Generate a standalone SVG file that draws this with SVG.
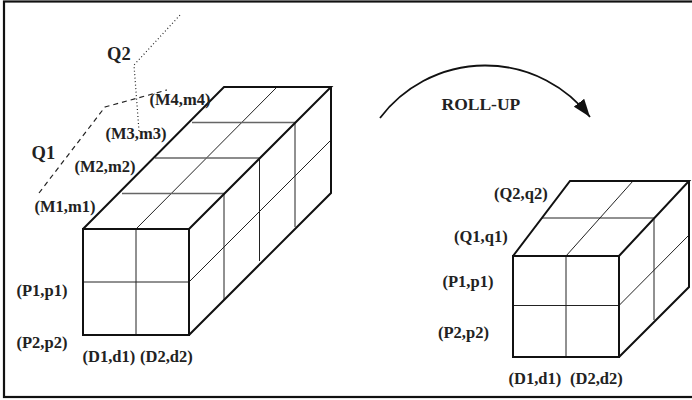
<svg xmlns="http://www.w3.org/2000/svg" width="692" height="400" viewBox="0 0 692 400">
<style>
.lbl{font-family:"Liberation Serif","Times New Roman",serif;font-weight:bold;font-size:16.5px;fill:#222}
.big{font-size:18.5px}
.thick{fill:none;stroke:#111;stroke-width:2;stroke-linejoin:miter}
.thin{fill:none;stroke:#222;stroke-width:1}
.gray{fill:none;stroke:#666;stroke-width:1.3}
.dash{fill:none;stroke:#222;stroke-width:1.2;stroke-dasharray:5 4}
.dot{fill:none;stroke:#222;stroke-width:1.2;stroke-dasharray:1 2.5}
</style>
<defs>
<marker id="ah" markerWidth="18" markerHeight="13" refX="18" refY="6.5" orient="auto" markerUnits="userSpaceOnUse">
<path d="M0,0 L18,6.5 L0,13 Z" fill="#111"/>
</marker>
</defs>
<rect x="0" y="0" width="692" height="400" fill="#fff"/>
<rect x="4" y="1.5" width="700" height="395.5" fill="none" stroke="#111" stroke-width="2.2"/>

<g id="cube-left">
<line class="thin" x1="136" y1="229" x2="136" y2="335"/>
<line class="thin" x1="83" y1="282" x2="189" y2="282"/>
<line class="thin" x1="136" y1="229" x2="277" y2="87"/>
<line class="gray" x1="122" y1="193.5" x2="224" y2="193.5"/>
<line class="gray" x1="155" y1="158" x2="259.5" y2="158"/>
<line class="gray" x1="192" y1="122.5" x2="295" y2="122.5"/>
<line class="thin" x1="224" y1="193.5" x2="224" y2="300"/>
<line class="thin" x1="259.5" y1="158" x2="259.5" y2="261"/>
<line class="thin" x1="295" y1="122.5" x2="295" y2="227"/>
<line class="thin" x1="189" y1="282" x2="331" y2="140"/>
<rect class="thick" x="83" y="229" width="106" height="106"/>
<polyline class="thick" points="83,229 224,87 331,87 189,229"/>
<polyline class="thick" points="331,87 331,193 189,335"/>
</g>

<g id="cube-right">
<line class="thin" x1="566" y1="256" x2="566" y2="357"/>
<line class="thin" x1="513" y1="305.5" x2="619" y2="305.5"/>
<line class="thin" x1="566" y1="256" x2="633" y2="181"/>
<line class="thin" x1="542" y1="218" x2="654" y2="218"/>
<line class="thin" x1="654" y1="218" x2="654" y2="320"/>
<line class="thin" x1="619" y1="305.5" x2="689" y2="235"/>
<rect class="thick" x="513" y="256" width="106" height="101"/>
<polyline class="thick" points="513,256 570,181 689,181 619,256"/>
<polyline class="thick" points="689,181 689,287 619,357"/>
</g>

<g id="connectors">
<polyline id="q1-path" class="dash" points="39,193 105,107 167,90"/>
<polyline id="q2-path" class="dot" points="139,131 134,65 181,14"/>
<path id="roll-up-arrow" d="M380,118 A132,132 0 0 1 590,117" fill="none" stroke="#111" stroke-width="1.8" marker-end="url(#ah)"/>
</g>

<g id="labels-left">
<text class="lbl big" x="107" y="60">Q2</text>
<text class="lbl big" x="31.5" y="159">Q1</text>
<text class="lbl" x="149.5" y="105">(M4,m4)</text>
<text class="lbl" x="105.5" y="139">(M3,m3)</text>
<text class="lbl" x="74.5" y="172">(M2,m2)</text>
<text class="lbl" x="34.5" y="211.5">(M1,m1)</text>
<text class="lbl" x="16.5" y="296">(P1,p1)</text>
<text class="lbl" x="16.5" y="348">(P2,p2)</text>
<text class="lbl" x="82.5" y="361.5">(D1,d1)</text>
<text class="lbl" x="140" y="361.5">(D2,d2)</text>
</g>
<g id="label-rollup">
<text class="lbl" x="441.5" y="110" style="font-size:17.5px">ROLL-UP</text>
</g>
<g id="labels-right">
<text class="lbl" x="494" y="199">(Q2,q2)</text>
<text class="lbl" x="454" y="242">(Q1,q1)</text>
<text class="lbl" x="442.5" y="286.5">(P1,p1)</text>
<text class="lbl" x="438" y="337.5">(P2,p2)</text>
<text class="lbl" x="508.5" y="384">(D1,d1)</text>
<text class="lbl" x="570" y="384">(D2,d2)</text>
</g>
</svg>
